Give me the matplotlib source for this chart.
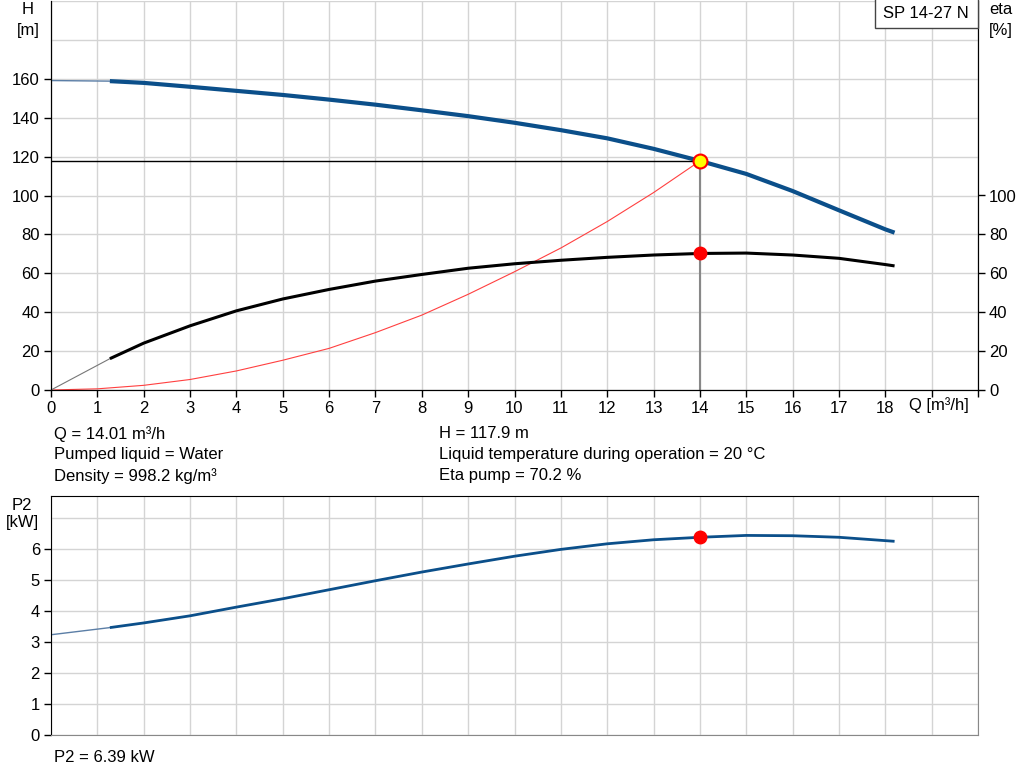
import numpy as np
import matplotlib
matplotlib.use("Agg")
from matplotlib import pyplot as plt
from matplotlib.patches import Rectangle

plt.rcParams['font.family'] = ['Liberation Sans', 'DejaVu Sans']

# Curva H (thin part hasta 1.27, thick despues)
q_h_thin = [0, 1.27]
h_thin = [159.1, 158.8]
q_h = [1.27, 2, 3, 4, 5, 6, 7, 8, 9, 10, 11, 12, 13, 14, 15, 16, 17, 18, 18.2]
h_vals = [158.8, 157.9, 155.9, 153.8, 151.7, 149.3, 146.7, 143.8, 140.8, 137.4,
          133.6, 129.4, 124.0, 117.8, 111.1, 102.3, 92.4, 82.6, 80.9]

# Curva eta
q_eta_thin = [0, 1.27]
eta_thin = [0, 16.1]
q_eta = [1.27, 2, 3, 4, 5, 6, 7, 8, 9, 10, 11, 12, 13, 14, 15, 16, 17, 18, 18.2]
eta_vals = [16.1, 24.1, 33.0, 40.7, 46.8, 51.7, 56.0, 59.4, 62.6, 64.9,
            66.7, 68.2, 69.4, 70.2, 70.4, 69.4, 67.7, 64.5, 63.8]

# Curva del sistema (roja)
q_sys = [0, 1, 2, 3, 4, 5, 6, 7, 8, 9, 10, 11, 12, 13, 14.01]
h_sys = [0, 0.6, 2.4, 5.4, 9.8, 15.3, 21.4, 29.5, 38.5, 49.2, 60.8, 73.0, 86.6, 101.5, 117.9]

# Curva P2
q_p2_thin = [0, 1.27]
p2_thin = [3.23, 3.46]
q_p2 = [1.27, 2, 3, 4, 5, 6, 7, 8, 9, 10, 11, 12, 13, 14, 15, 16, 17, 18.2]
p2_vals = [3.46, 3.61, 3.84, 4.12, 4.39, 4.68, 4.97, 5.25, 5.51, 5.76,
           5.98, 6.16, 6.29, 6.37, 6.43, 6.42, 6.37, 6.24]

# Punto de operacion
q_op = 14.01
h_op = 117.9
eta_op = 70.2
p2_op = 6.39

blue = "#0b4f8a"
grid_col = "#d4d4d4"
fs = 12

fig = plt.figure(figsize=(10.24, 7.81), dpi=100)
ax = fig.add_axes([51 / 1024, 1 - 390 / 781, 927 / 1024, 389 / 781])
ax2 = ax.twinx()
axp = fig.add_axes([51 / 1024, 1 - 735 / 781, 927 / 1024, 239 / 781])

# Grafica superior
ax.set_xlim(0, 20)
ax.set_ylim(0, 200)
ax2.set_ylim(0, 200)
ax.set_xticks(range(0, 21))
ax.set_xticklabels([str(i) for i in range(0, 19)] + ["", ""])
ax.set_yticks(range(0, 161, 20))
ax.set_yticks(range(0, 201, 20), minor=True)
ax2.set_yticks(range(0, 101, 20))
ax.tick_params(which="minor", length=0)
for a in (ax, ax2, axp):
    a.tick_params(labelsize=fs, length=5, width=1, color="black", pad=3)
ax.grid(True, which="both", color=grid_col, lw=1)
ax.set_axisbelow(True)
for s in ("left", "bottom", "right"):
    ax.spines[s].set_color("black")
    ax2.spines[s].set_color("black")
ax.spines["top"].set_visible(False)
ax2.spines["top"].set_visible(False)

ax.plot(q_h_thin, h_thin, color="#5b7ea6", lw=1)
ax.plot(q_h, h_vals, color=blue, lw=3, solid_capstyle="butt", solid_joinstyle="round")
ax.plot(q_sys, h_sys, color="#ff4040", lw=0.8)
ax2.plot(q_eta_thin, eta_thin, color="#777777", lw=0.8)
ax2.plot(q_eta, eta_vals, color="black", lw=2.2, solid_capstyle="butt", solid_joinstyle="round")

ax.plot([0, q_op], [h_op, h_op], color="black", lw=1)
ax.plot([q_op, q_op], [0, h_op], color="#888888", lw=1.5)
ax2.plot(q_op, eta_op, "o", color="red", ms=9, zorder=5)
ax2.plot(q_op, h_op, "o", mfc="#ffff00", mec="red", mew=1.5, ms=10, zorder=6)

ax.text(19.15, -3.5, "Q [m³/h]", ha="center", va="top", fontsize=fs)
fig.text(28 / 1024, 1 - 10 / 781, "H", ha="center", va="center", fontsize=fs)
fig.text(28 / 1024, 1 - 30 / 781, "[m]", ha="center", va="center", fontsize=fs)
fig.text(1001 / 1024, 1 - 10 / 781, "eta", ha="center", va="center", fontsize=fs)
fig.text(1001 / 1024, 1 - 30 / 781, "[%]", ha="center", va="center", fontsize=fs)

# caja del modelo
fig.patches.append(Rectangle((875 / 1024, 1 - 28 / 781), 103 / 1024, 30 / 781,
                             transform=fig.transFigure, fc="white", ec="#444444", lw=1, zorder=10))
fig.text(926 / 1024, 1 - 14 / 781, "SP 14-27 N", ha="center", va="center", fontsize=fs, zorder=11)

info_left = ["Q = 14.01 m³/h", "Pumped liquid = Water", "Density = 998.2 kg/m³"]
info_right = ["H = 117.9 m", "Liquid temperature during operation = 20 °C", "Eta pump = 70.2 %"]
for i, t in enumerate(info_left):
    fig.text(54 / 1024, 1 - (434 + 21 * i) / 781, t, ha="left", va="center", fontsize=fs)
for i, t in enumerate(info_right):
    fig.text(439 / 1024, 1 - (434 + 21 * i) / 781, t, ha="left", va="center", fontsize=fs)

# Grafica inferior P2
axp.set_xlim(0, 20)
axp.set_ylim(0, 7.7)
axp.set_xticks(range(0, 21))
axp.set_xticklabels([])
axp.tick_params(axis="x", length=0)
axp.set_yticks(range(0, 7))
axp.set_yticks(range(0, 8), minor=True)
axp.tick_params(which="minor", length=0)
axp.grid(True, which="both", color=grid_col, lw=1)
axp.set_axisbelow(True)
axp.spines["left"].set_color("black")
axp.spines["top"].set_color("black")
axp.spines["right"].set_color("#888888")
axp.spines["bottom"].set_color("#888888")

axp.plot(q_p2_thin, p2_thin, color="#5b7ea6", lw=1)
axp.plot(q_p2, p2_vals, color=blue, lw=2, solid_capstyle="butt", solid_joinstyle="round")
axp.plot(q_op, p2_op, "o", color="red", ms=9, zorder=5)

fig.text(22 / 1024, 1 - 505 / 781, "P2", ha="center", va="center", fontsize=fs)
fig.text(22 / 1024, 1 - 523 / 781, "[kW]", ha="center", va="center", fontsize=fs)
fig.text(54 / 1024, 1 - 757 / 781, "P2 = 6.39 kW", ha="left", va="center", fontsize=fs)

fig.savefig("out.png", dpi=100)
